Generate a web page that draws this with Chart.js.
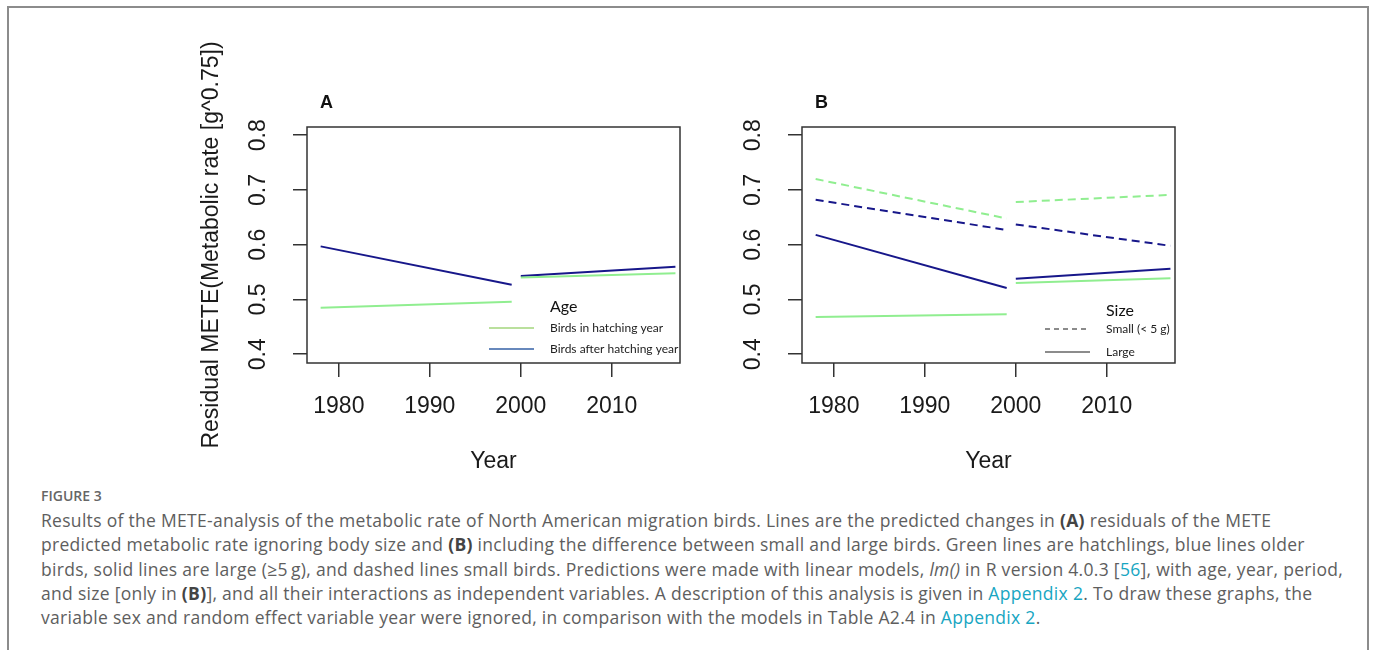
<!DOCTYPE html>
<html>
<head>
<meta charset="utf-8">
<script src="https://cdn.jsdelivr.net/npm/chart.js@4.4.1/dist/chart.umd.min.js"></script>
<style>
  body { margin: 0; background: #fff; }
  #page { position: relative; width: 1375px; height: 650px; overflow: hidden; }
  #frame { position: absolute; left: 7px; top: 6px; width: 1362px; height: 720px; border: 2px solid #8c8c8c; box-sizing: border-box; }
  .panel { position: absolute; top: 30px; }
  #panelA { left: 190px; }
  #panelB { left: 685px; }
  #caption { position: absolute; left: 41px; top: 484px; font-family: 'Open Sans', sans-serif; color: #5e5e5e; font-size: 17.5px; letter-spacing: 0.3px; line-height: 24.3px; white-space: nowrap; }
  #caption .fig { font-size: 14px; letter-spacing: 0; font-weight: 600; color: #666; line-height: 24px; }
  #caption b { color: #444; }
  #caption a { color: #17a6c2; text-decoration: none; }
</style>
</head>
<body>
<div id="page">
  <div id="frame"></div>
  <canvas id="panelA" class="panel" width="510" height="450"></canvas>
  <canvas id="panelB" class="panel" width="510" height="450"></canvas>
  <div id="caption">
    <div class="fig">FIGURE 3</div>
    Results of the METE-analysis of the metabolic rate of North American migration birds. Lines are the predicted changes in <b>(A)</b> residuals of the METE<br>
    predicted metabolic rate ignoring body size and <b>(B)</b> including the difference between small and large birds. Green lines are hatchlings, blue lines older<br>
    birds, solid lines are large (≥5&#8201;g), and dashed lines small birds. Predictions were made with linear models, <i>lm()</i> in R version 4.0.3 [<a>56</a>], with age, year, period,<br>
    and size [only in <b>(B)</b>], and all their interactions as independent variables. A description of this analysis is given in <a>Appendix 2</a>. To draw these graphs, the<br>
    variable sex and random effect variable year were ignored, in comparison with the models in Table A2.4 in <a>Appendix 2</a>.
  </div>
</div>
<script>
// ==========================
// Data
// ==========================
// ends of the two periods: 1978-1999 and 2000-2017
const years = [1978, 1999, 2000, 2017];
const xTicks = [1980, 1990, 2000, 2010];
const yTicks = [0.4, 0.5, 0.6, 0.7, 0.8];

// panel A: age only
const hatchA = [0.485, 0.496, 0.540, 0.548];
const olderA = [0.597, 0.527, 0.543, 0.560];

// panel B: age x size
const hatchSmallB = [0.720, 0.648, 0.678, 0.691];
const olderSmallB = [0.682, 0.627, 0.637, 0.598];
const olderLargeB = [0.618, 0.521, 0.538, 0.556];
const hatchLargeB = [0.468, 0.473, 0.530, 0.539];

const hatchColor = '#90ee90';
const olderColor = '#17178a';
const axisFont = { family: 'Liberation Sans, Arial, sans-serif', size: 23 };
const inkColor = '#1a1a1a';

// one dataset per period, so the lines break at 1999/2000
function periodLines(vals, color, dashed) {
  return [[0, 1], [2, 3]].map(([a, b]) => ({
    data: [{ x: years[a], y: vals[a] }, { x: years[b], y: vals[b] }],
    borderColor: color,
    borderWidth: 2,
    borderDash: dashed ? [8, 5] : [],
    pointRadius: 0,
    tension: 0,
    fill: false
  }));
}

function scalesFor(showYTitle) {
  return {
    x: {
      type: 'linear',
      min: 1976.5,
      max: 2017.5,
      afterBuildTicks: s => { s.ticks = xTicks.map(v => ({ value: v })); },
      afterFit: s => { s.height = 117; },
      grid: { drawOnChartArea: false, tickLength: 14, color: '#333', lineWidth: 1.5 },
      border: { display: false },
      ticks: { color: inkColor, font: axisFont, padding: 16, maxRotation: 0, autoSkip: false, callback: v => String(v) },
      title: { display: true, text: 'Year', color: inkColor, font: axisFont, padding: { bottom: 5 } }
    },
    y: {
      type: 'linear',
      min: 0.384,
      max: 0.815,
      afterBuildTicks: s => { s.ticks = yTicks.map(v => ({ value: v })); },
      afterFit: s => { s.width = 117; },
      grid: { drawOnChartArea: false, tickLength: 14, color: '#333', lineWidth: 1.5 },
      border: { display: false },
      ticks: { color: inkColor, font: axisFont, padding: 18, minRotation: 90, maxRotation: 90, crossAlign: 'center', autoSkip: false, callback: v => v.toFixed(1) },
      title: { display: showYTitle, text: 'Residual METE(Metabolic rate [g^0.75])', color: inkColor, font: axisFont, padding: { top: 8 } }
    }
  };
}

// ==========================
// Box, panel letter and legend (R style)
// ==========================
const rDecor = {
  id: 'rDecor',
  afterDraw(chart, args, opts) {
    const { ctx, chartArea: a } = chart;
    ctx.save();
    ctx.strokeStyle = '#333';
    ctx.lineWidth = 1.5;
    ctx.strokeRect(a.left, a.top, a.right - a.left, a.bottom - a.top);

    ctx.fillStyle = '#111';
    ctx.font = 'bold 18px Liberation Sans, Arial, sans-serif';
    ctx.textBaseline = 'middle';
    ctx.fillText(opts.letter, a.left + 13, a.top - 24);

    const lg = opts.legend;
    ctx.fillStyle = '#111';
    ctx.font = '16px Lato, sans-serif';
    ctx.fillText(lg.title, a.right + lg.textX, a.bottom + lg.titleY);
    ctx.font = '12px Lato, sans-serif';
    lg.items.forEach((it, i) => {
      const y = a.bottom + lg.rows[i];
      ctx.strokeStyle = it.color;
      ctx.lineWidth = 1.5;
      ctx.setLineDash(it.dash || []);
      ctx.beginPath();
      ctx.moveTo(a.right + lg.lineX[0], y);
      ctx.lineTo(a.right + lg.lineX[1], y);
      ctx.stroke();
      ctx.fillStyle = '#222';
      ctx.fillText(it.label, a.right + lg.textX, y);
    });
    ctx.restore();
  }
};

// ==========================
// Panel A
// ==========================
new Chart(document.getElementById('panelA').getContext('2d'), {
  type: 'line',
  data: { datasets: [...periodLines(hatchA, hatchColor, false), ...periodLines(olderA, olderColor, false)] },
  options: {
    responsive: false,
    animation: false,
    layout: { padding: { top: 97, right: 20, left: 0, bottom: 0 } },
    scales: scalesFor(true),
    plugins: {
      legend: { display: false },
      tooltip: { enabled: false },
      rDecor: {
        letter: 'A',
        legend: {
          title: 'Age', titleY: -56, textX: -130, lineX: [-191, -146], rows: [-35, -14],
          items: [
            { label: 'Birds in hatching year', color: '#a3d67c' },
            { label: 'Birds after hatching year', color: '#3560a6' }
          ]
        }
      }
    }
  },
  plugins: [rDecor]
});

// ==========================
// Panel B
// ==========================
new Chart(document.getElementById('panelB').getContext('2d'), {
  type: 'line',
  data: {
    datasets: [
      ...periodLines(hatchSmallB, hatchColor, true),
      ...periodLines(olderSmallB, olderColor, true),
      ...periodLines(olderLargeB, olderColor, false),
      ...periodLines(hatchLargeB, hatchColor, false)
    ]
  },
  options: {
    responsive: false,
    animation: false,
    layout: { padding: { top: 97, right: 20, left: 0, bottom: 0 } },
    scales: scalesFor(false),
    plugins: {
      legend: { display: false },
      tooltip: { enabled: false },
      rDecor: {
        letter: 'B',
        legend: {
          title: 'Size', titleY: -52, textX: -69, lineX: [-130, -85], rows: [-34, -11],
          items: [
            { label: 'Small (< 5 g)', color: '#666', dash: [5, 4] },
            { label: 'Large', color: '#666' }
          ]
        }
      }
    }
  },
  plugins: [rDecor]
});
</script>
</body>
</html>
